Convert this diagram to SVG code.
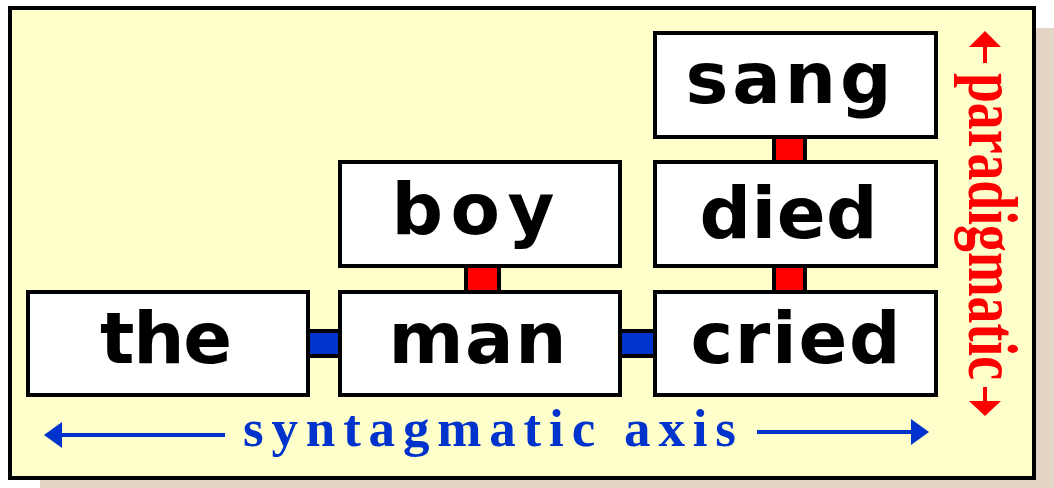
<svg xmlns="http://www.w3.org/2000/svg" width="1054" height="488" viewBox="0 0 1054 488">
<style>
.box{fill:#FFFFFF;stroke:#000000;stroke-width:4}
.word{font-family:"DejaVu Sans",Verdana,sans-serif;font-weight:bold;font-size:72px;fill:#000000}
.red{fill:#FF0000;stroke:#000000;stroke-width:4}
.blue{fill:#0033CC;stroke:#000000;stroke-width:4}
.axis{font-family:"Liberation Serif","Times New Roman",serif;font-weight:bold}
</style>
<rect x="0" y="0" width="1054" height="488" fill="#FFFFFF"/>
<rect x="40" y="28" width="1014" height="460" fill="#E4D4C4"/>
<rect x="10" y="8" width="1024" height="470" fill="#FFFFCC" stroke="#000000" stroke-width="4"/>
<g id="connectors">
<rect class="red" x="774" y="136" width="31" height="26"/>
<rect class="red" x="774" y="265" width="31" height="28"/>
<rect class="red" x="466" y="265" width="33" height="28"/>
<rect class="blue" x="307" y="331" width="34" height="25"/>
<rect class="blue" x="619" y="331" width="37" height="25"/>
</g>
<g id="node-sang"><rect class="box" x="655" y="33" width="281" height="104"/><text class="word" x="685.5" y="103" textLength="206" lengthAdjust="spacing">sang</text></g>
<g id="node-died"><rect class="box" x="655" y="162" width="281" height="104"/><text class="word" x="699.5" y="238" textLength="178" lengthAdjust="spacing">died</text></g>
<g id="node-boy"><rect class="box" x="340" y="162" width="280" height="104"/><text class="word" x="391.5" y="234" textLength="163" lengthAdjust="spacing">boy</text></g>
<g id="node-the"><rect class="box" x="28" y="292" width="280" height="103"/><text class="word" x="100" y="363" textLength="132" lengthAdjust="spacing">the</text></g>
<g id="node-man"><rect class="box" x="340" y="292" width="280" height="103"/><text class="word" x="388.5" y="363" textLength="178" lengthAdjust="spacing">man</text></g>
<g id="node-cried"><rect class="box" x="655" y="292" width="281" height="103"/><text class="word" x="690.5" y="363" textLength="210" lengthAdjust="spacing">cried</text></g>
<g id="syntagmatic-axis" fill="#0033CC">
<rect x="60" y="433" width="165" height="4"/>
<polygon points="44,435 62,422 62,448"/>
<rect x="757" y="430" width="156" height="4"/>
<polygon points="929,432 911,419 911,445"/>
<text class="axis" x="243" y="446" font-size="53" textLength="493" lengthAdjust="spacing">syntagmatic axis</text>
</g>
<g id="paradigmatic-axis" fill="#FF0000">
<rect x="983" y="44" width="4" height="19"/>
<polygon points="985,31 1001,47 969,47"/>
<rect x="983" y="387" width="4" height="15"/>
<polygon points="969,401 1001,401 985,416"/>
<text class="axis" transform="translate(969,73) rotate(90)" x="0" y="0" font-size="70" textLength="307" lengthAdjust="spacingAndGlyphs">paradigmatic</text>
</g>
</svg>
